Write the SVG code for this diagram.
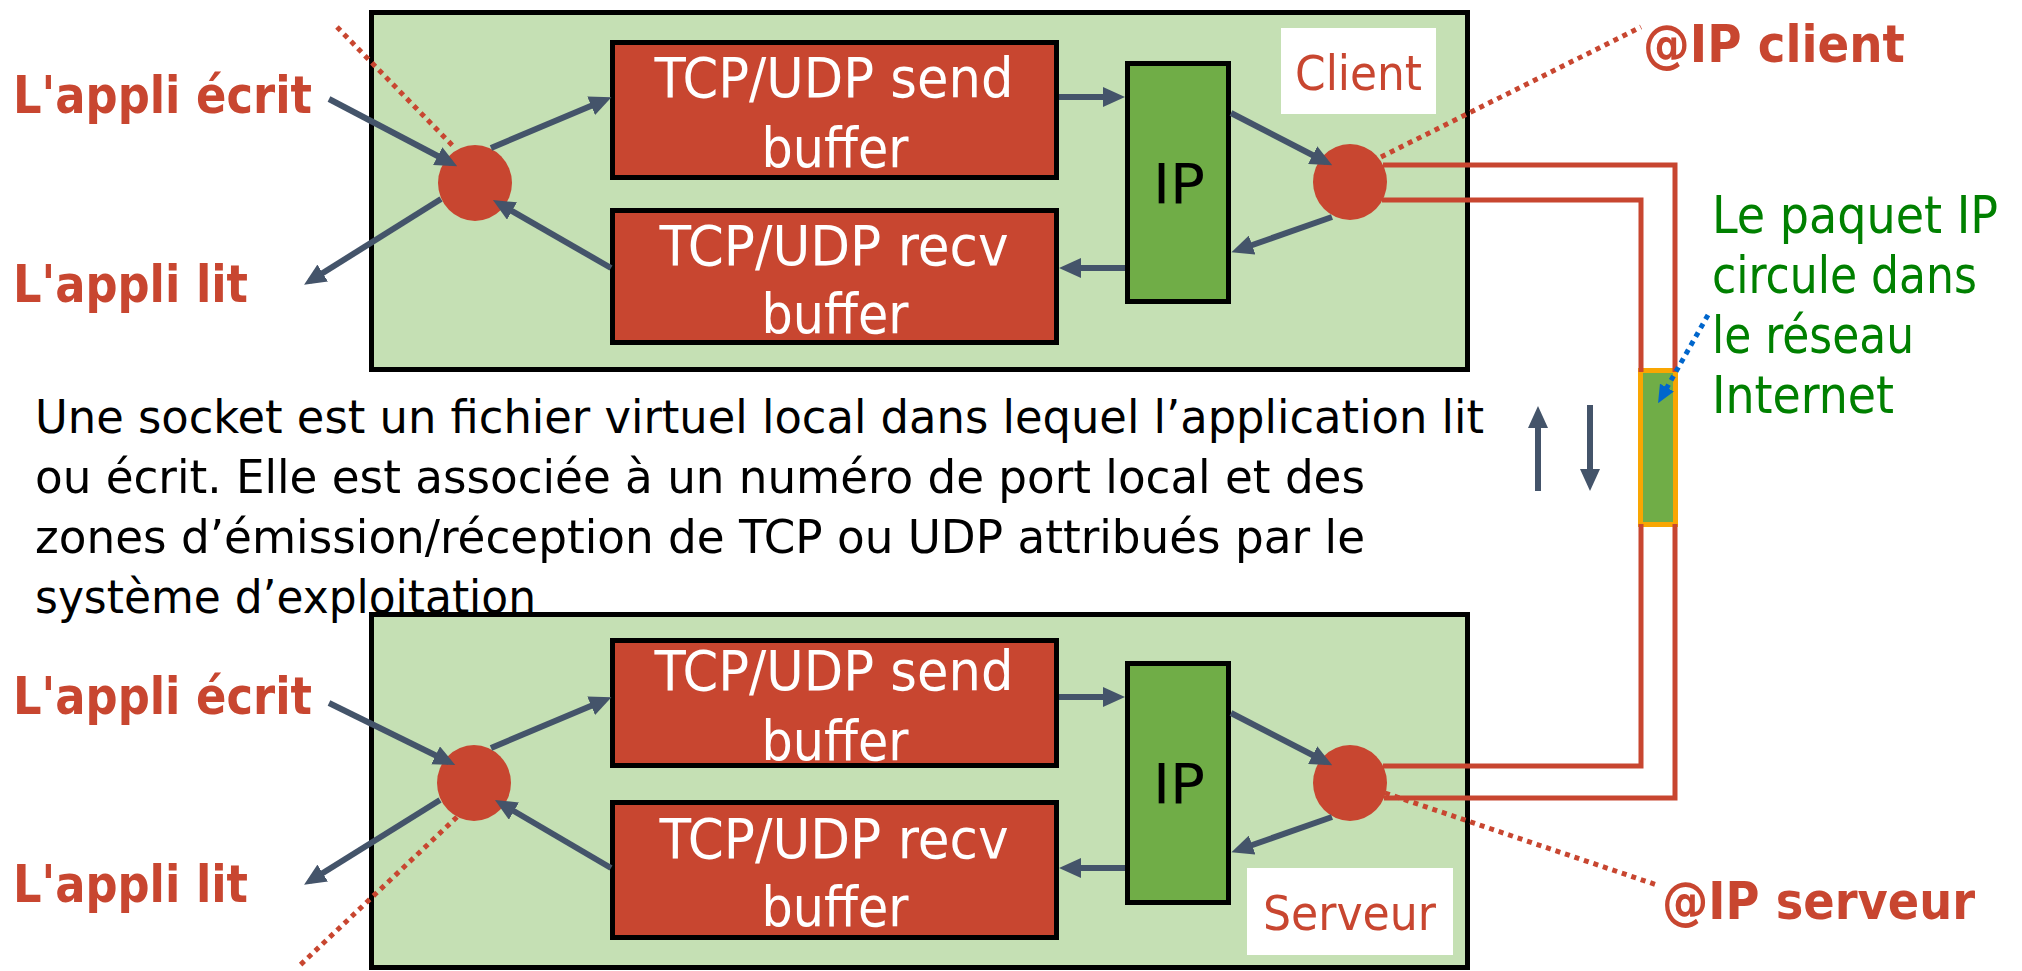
<svg xmlns="http://www.w3.org/2000/svg" width="2022" height="971" viewBox="0 0 2022 971">
<defs>
<style>
text{font-family:'DejaVu Sans Condensed','DejaVu Sans',sans-serif;}
.host{fill:#C5E0B4;stroke:#000;stroke-width:5;}
.buf{fill:#C84630;stroke:#000;stroke-width:5;}
.ip{fill:#70AD47;stroke:#000;stroke-width:5;}
.sock{fill:#C84630;}
.lbl{fill:#fff;}
.buft{fill:#fff;font-size:55px;text-anchor:middle;}
.ipt{fill:#000;font-size:55px;text-anchor:middle;}
.host-t{fill:#C84630;font-size:48px;}
.body{fill:#000;font-size:46px;}
.app{fill:#C84630;font-size:51px;font-weight:bold;}
.green{fill:#008000;font-size:52px;}
.arr{stroke:#44546A;stroke-width:6;fill:none;marker-end:url(#ah);}
.dot{stroke:#C84630;stroke-width:5;stroke-dasharray:5 5;fill:none;}
.wire{stroke:#C84630;stroke-width:5;fill:none;}
</style>
<marker id="ah" markerUnits="userSpaceOnUse" markerWidth="22" markerHeight="20" viewBox="0 0 22 20" refX="15" refY="10" orient="auto">
<path d="M0,0 L22,10 L0,20 z" fill="#44546A"/>
</marker>
<marker id="bh" markerUnits="userSpaceOnUse" markerWidth="18" markerHeight="16" viewBox="0 0 18 16" refX="12" refY="8" orient="auto">
<path d="M0,0 L18,8 L0,16 z" fill="#0066CC"/>
</marker>
</defs>
<rect width="2022" height="971" fill="#fff"/>

<g id="description">
<text class="body" x="35" y="433" textLength="1449" lengthAdjust="spacingAndGlyphs">Une socket est un fichier virtuel local dans lequel l’application lit</text>
<text class="body" x="35" y="493" textLength="1330" lengthAdjust="spacingAndGlyphs">ou écrit. Elle est associée à un numéro de port local et des</text>
<text class="body" x="35" y="553" textLength="1330" lengthAdjust="spacingAndGlyphs">zones d’émission/réception de TCP ou UDP attribués par le</text>
<text class="body" x="35" y="613" textLength="501" lengthAdjust="spacingAndGlyphs">système d’exploitation</text>
</g>

<g id="client">
<rect class="host" x="371.5" y="12.5" width="1096" height="357"/>
<rect class="lbl" x="1281" y="28" width="155" height="86"/>
<text class="host-t" x="1295" y="90" textLength="127" lengthAdjust="spacingAndGlyphs">Client</text>
</g>
<g id="client-send">
<rect class="buf" x="612.5" y="42.5" width="444" height="135"/>
<text class="buft" x="834" y="97" textLength="359" lengthAdjust="spacingAndGlyphs">TCP/UDP send</text>
<text class="buft" x="835" y="167" textLength="147" lengthAdjust="spacingAndGlyphs">buffer</text>
</g>
<g id="client-recv">
<rect class="buf" x="612.5" y="210.5" width="444" height="132"/>
<text class="buft" x="834" y="265" textLength="349" lengthAdjust="spacingAndGlyphs">TCP/UDP recv</text>
<text class="buft" x="835" y="333" textLength="147" lengthAdjust="spacingAndGlyphs">buffer</text>
</g>
<g id="client-ip">
<rect class="ip" x="1127.5" y="63.5" width="101" height="238"/>
<text class="ipt" x="1179" y="203" textLength="52" lengthAdjust="spacingAndGlyphs">IP</text>
</g>
<g id="client-socket-app"><ellipse class="sock" cx="475" cy="183" rx="37" ry="38"/></g>
<g id="client-socket-net"><ellipse class="sock" cx="1350" cy="182" rx="37" ry="38"/></g>

<g id="server">
<rect class="host" x="371.5" y="614.5" width="1096" height="353"/>
<rect class="lbl" x="1247" y="868" width="206" height="87"/>
<text class="host-t" x="1263" y="930" textLength="173" lengthAdjust="spacingAndGlyphs">Serveur</text>
</g>
<g id="server-send">
<rect class="buf" x="612.5" y="640.5" width="444" height="125"/>
<text class="buft" x="834" y="690" textLength="359" lengthAdjust="spacingAndGlyphs">TCP/UDP send</text>
<text class="buft" x="835" y="760" textLength="147" lengthAdjust="spacingAndGlyphs">buffer</text>
</g>
<g id="server-recv">
<rect class="buf" x="612.5" y="802.5" width="444" height="135"/>
<text class="buft" x="834" y="858" textLength="349" lengthAdjust="spacingAndGlyphs">TCP/UDP recv</text>
<text class="buft" x="835" y="926" textLength="147" lengthAdjust="spacingAndGlyphs">buffer</text>
</g>
<g id="server-ip">
<rect class="ip" x="1127.5" y="663.5" width="101" height="239"/>
<text class="ipt" x="1179" y="803" textLength="52" lengthAdjust="spacingAndGlyphs">IP</text>
</g>
<g id="server-socket-app"><ellipse class="sock" cx="474" cy="783" rx="37" ry="38"/></g>
<g id="server-socket-net"><ellipse class="sock" cx="1350" cy="783" rx="37" ry="38"/></g>

<g id="packet">
<rect x="1640.5" y="370.5" width="35" height="154" fill="#70AD47" stroke="#F9A602" stroke-width="5"/>
</g>

<g id="connectors">
<path class="wire" d="M1383,165 H1675 V372"/>
<path class="wire" d="M1675,524 V798 H1384"/>
<path class="wire" d="M1382,200 H1641 V372"/>
<path class="wire" d="M1641,524 V766 H1383"/>

<line class="arr" x1="329" y1="99" x2="451" y2="163"/>
<line class="arr" x1="441" y1="199" x2="310" y2="281"/>
<line class="arr" x1="491" y1="148" x2="605" y2="100"/>
<line class="arr" x1="611" y1="268" x2="499" y2="203.5"/>
<line class="arr" x1="1059" y1="97" x2="1118" y2="97"/>
<line class="arr" x1="1125" y1="268" x2="1066" y2="268"/>
<line class="arr" x1="1231" y1="113" x2="1326" y2="162"/>
<line class="arr" x1="1332" y1="217" x2="1238" y2="250"/>

<line class="arr" x1="329" y1="703" x2="449" y2="762"/>
<line class="arr" x1="440" y1="800" x2="310" y2="881"/>
<line class="arr" x1="491" y1="748" x2="605" y2="700"/>
<line class="arr" x1="611" y1="868" x2="501" y2="803.5"/>
<line class="arr" x1="1059" y1="697" x2="1118" y2="697"/>
<line class="arr" x1="1125" y1="868" x2="1066" y2="868"/>
<line class="arr" x1="1231" y1="713" x2="1326" y2="762"/>
<line class="arr" x1="1332" y1="817" x2="1238" y2="850"/>

<line class="arr" x1="1538" y1="491" x2="1538" y2="413"/>
<line class="arr" x1="1590" y1="405" x2="1590" y2="484"/>

<line class="dot" x1="337" y1="27" x2="453" y2="146"/>
<line class="dot" x1="1381" y1="157" x2="1641" y2="27"/>
<line class="dot" x1="457" y1="817" x2="297" y2="968"/>
<line class="dot" x1="1385" y1="793" x2="1657" y2="885"/>

<line x1="1708" y1="315" x2="1661" y2="398" stroke="#0066CC" stroke-width="5" stroke-dasharray="5 5" marker-end="url(#bh)"/>
</g>

<g id="labels">
<text class="app" x="13" y="113" textLength="299" lengthAdjust="spacingAndGlyphs">L'appli écrit</text>
<text class="app" x="13" y="302" textLength="235" lengthAdjust="spacingAndGlyphs">L'appli lit</text>
<text class="app" x="13" y="714" textLength="299" lengthAdjust="spacingAndGlyphs">L'appli écrit</text>
<text class="app" x="13" y="902" textLength="235" lengthAdjust="spacingAndGlyphs">L'appli lit</text>
<text class="app" x="1643" y="62" textLength="262" lengthAdjust="spacingAndGlyphs">@IP client</text>
<text class="app" x="1662" y="919" textLength="313" lengthAdjust="spacingAndGlyphs">@IP serveur</text>
<text class="green" x="1712" y="233" textLength="286" lengthAdjust="spacingAndGlyphs">Le paquet IP</text>
<text class="green" x="1712" y="293" textLength="265" lengthAdjust="spacingAndGlyphs">circule dans</text>
<text class="green" x="1712" y="353" textLength="202" lengthAdjust="spacingAndGlyphs">le réseau</text>
<text class="green" x="1712" y="413" textLength="182" lengthAdjust="spacingAndGlyphs">Internet</text>
</g>
</svg>
